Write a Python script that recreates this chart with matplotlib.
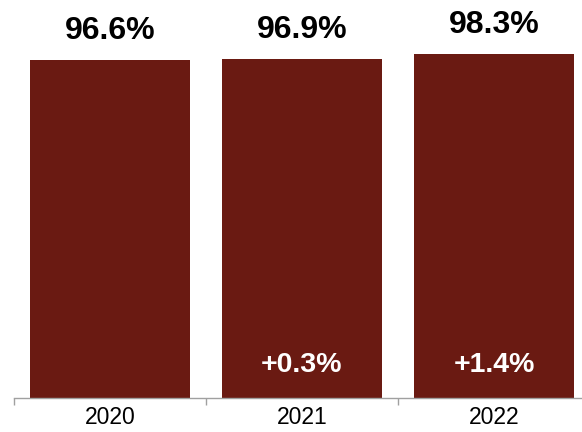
import matplotlib.pyplot as plt

# data
years = ["2020", "2021", "2022"]
rates = [96.6, 96.9, 98.3]
changes = ["", "+0.3%", "+1.4%"]

bar_color = "#6A1A12"

plt.rcParams["font.family"] = ["Liberation Sans", "DejaVu Sans"]

fig = plt.figure(figsize=(5.82, 4.32), dpi=100)
ax = fig.add_axes([14 / 582, 34 / 432, 576 / 582, 398 / 432])

x = range(len(years))
ax.bar(x, rates, width=0.833, color=bar_color)

for i, v in enumerate(rates):
    ax.annotate(f"{v:.1f}%", (i, v), xytext=(0, 15), textcoords="offset points",
                ha="center", va="baseline", fontsize=23, fontweight="bold")
    if changes[i]:
        ax.text(i, 9.5, changes[i], ha="center", va="center", fontsize=20.5,
                fontweight="bold", color="white")

ax.set_xlim(-0.5, 2.5)
ax.set_ylim(0, 113.6)

for s in ["top", "right", "left"]:
    ax.spines[s].set_visible(False)
ax.spines["bottom"].set_color("#a0a0a0")
ax.spines["bottom"].set_linewidth(1)

ax.set_yticks([])
ax.set_xticks(list(x))
ax.set_xticklabels(years, fontsize=16.5)
ax.tick_params(axis="x", which="major", length=0, pad=6)
ax.set_xticks([-0.5, 0.5, 1.5], minor=True)
ax.tick_params(axis="x", which="minor", length=5, color="#a0a0a0", width=1)

fig.savefig("out.png", dpi=100)
